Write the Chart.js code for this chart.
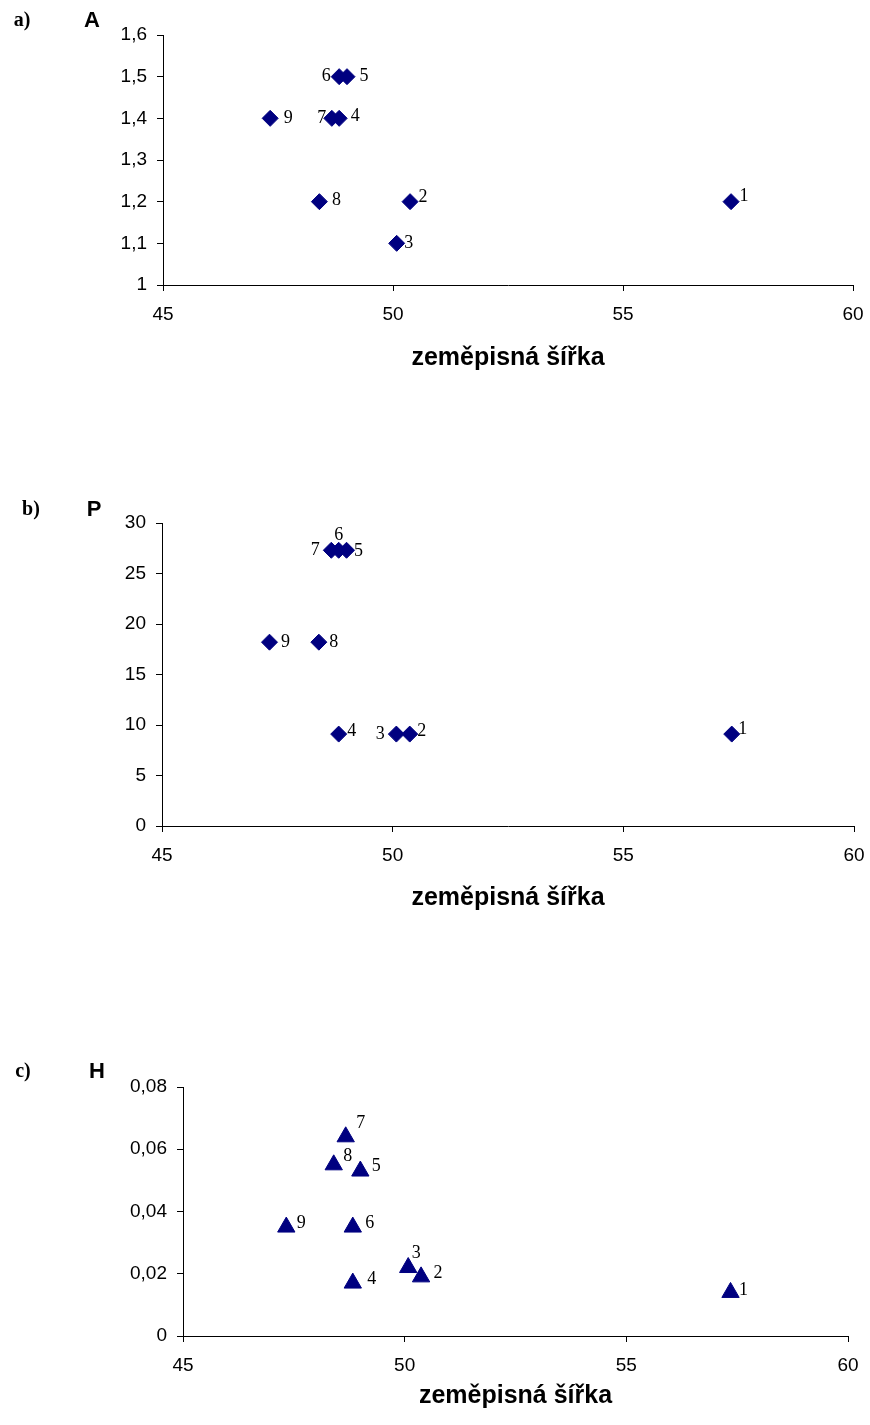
<!DOCTYPE html>
<html>
<head>
<meta charset="utf-8">
<script src="https://cdn.jsdelivr.net/npm/chart.js@4.4.1/dist/chart.umd.min.js"></script>
<style>
    body { margin: 0; background: #fff; }
    #page { position: relative; width: 870px; height: 1425px; }
    canvas { position: absolute; left: 0; }
</style>
</head>
<body>
<div id="page">
    <canvas id="chartA" width="870" height="380" style="top:0px"></canvas>
    <canvas id="chartP" width="870" height="440" style="top:480px"></canvas>
    <canvas id="chartH" width="870" height="385" style="top:1040px"></canvas>
</div>
<script>
// station numbers and their latitude
const stations = ['1', '2', '3', '4', '5', '6', '7', '8', '9'];
const latitude = [57.35, 50.37, 50.08, 48.83, 49.0, 48.83, 48.67, 48.4, 47.33];

// measured values per station
const valuesA = [1.2, 1.2, 1.1, 1.4, 1.5, 1.5, 1.4, 1.2, 1.4];
const valuesP = [9.1, 9.1, 9.1, 9.1, 27.3, 27.3, 27.3, 18.2, 18.2];
const valuesH = [0.014, 0.019, 0.022, 0.017, 0.053, 0.035, 0.064, 0.055, 0.035];

// axis ticks
const latTicks = [45, 50, 55, 60];
const ticksA = [1, 1.1, 1.2, 1.3, 1.4, 1.5, 1.6];
const ticksP = [0, 5, 10, 15, 20, 25, 30];
const ticksH = [0, 0.02, 0.04, 0.06, 0.08];

const sansFont = 'Arial, "Liberation Sans", sans-serif';
const serifFont = '"Times New Roman", "Liberation Serif", serif';
const markerColor = '#000080';

function fmt(v) {
    return Number(v.toFixed(3)).toString().replace('.', ',');
}

// station numbers next to each marker
const stationLabels = {
    id: 'stationLabels',
    afterDatasetsDraw(chart, args, opts) {
        const c = chart.ctx;
        const meta = chart.getDatasetMeta(0);
        c.save();
        c.font = '18px ' + serifFont;
        c.fillStyle = '#000';
        c.textAlign = 'center';
        c.textBaseline = 'middle';
        meta.data.forEach(function (pt, i) {
            const shift = opts.shift[i];
            c.fillText(stations[i], pt.x + shift[0], pt.y + shift[1]);
        });
        c.restore();
    }
};

// panel letter and quantity name in the top-left corner
const cornerText = {
    id: 'cornerText',
    afterDraw(chart, args, opts) {
        const c = chart.ctx;
        c.save();
        c.fillStyle = '#000';
        c.textAlign = 'center';
        c.textBaseline = 'middle';
        c.font = 'bold 20px ' + serifFont;
        c.fillText(opts.panel, opts.panelX, opts.y);
        c.font = 'bold 22px ' + sansFont;
        c.fillText(opts.name, opts.nameX, opts.y);
        c.restore();
    }
};

function makeChart(id, values, yTicks, s) {
    let points = [];
    latitude.forEach(function (lat, i) {
        points.push({ x: lat, y: values[i] });
    });

    return new Chart(document.getElementById(id), {
        type: 'scatter',
        data: {
            datasets: [{
                data: points,
                pointStyle: s.marker,
                pointRadius: s.radius,
                pointBackgroundColor: markerColor,
                pointBorderColor: markerColor,
                pointBorderWidth: 1
            }]
        },
        options: {
            responsive: false,
            animation: false,
            layout: { padding: s.padding },
            plugins: {
                legend: { display: false },
                tooltip: { enabled: false },
                stationLabels: { shift: s.shift },
                cornerText: s.corner
            },
            scales: {
                x: {
                    type: 'linear',
                    min: 45,
                    max: 60,
                    afterBuildTicks: function (scale) {
                        scale.ticks = latTicks.map(v => ({ value: v }));
                    },
                    afterFit: function (scale) {
                        // plot edges come from layout.padding only
                        scale.height = s.xHeight;
                        scale.paddingLeft = 0;
                        scale.paddingRight = 0;
                    },
                    ticks: {
                        color: '#000',
                        font: { family: sansFont, size: 19 },
                        padding: 12,
                        maxRotation: 0
                    },
                    grid: { drawOnChartArea: false, tickLength: 6, color: '#000' },
                    border: { color: '#000', width: 1 },
                    title: {
                        display: true,
                        text: 'zeměpisná šířka',
                        color: '#000',
                        padding: 0,
                        font: { family: sansFont, size: 25, weight: 'bold' }
                    }
                },
                y: {
                    type: 'linear',
                    min: yTicks[0],
                    max: yTicks[yTicks.length - 1],
                    afterBuildTicks: function (scale) {
                        scale.ticks = yTicks.map(v => ({ value: v }));
                    },
                    afterFit: function (scale) {
                        scale.width = s.yWidth;
                        scale.paddingTop = 0;
                        scale.paddingBottom = 0;
                    },
                    ticks: {
                        color: '#000',
                        font: { family: sansFont, size: 19 },
                        padding: 10,
                        callback: function (value) {
                            return fmt(value);
                        }
                    },
                    grid: { drawOnChartArea: false, tickLength: 6, color: '#000' },
                    border: { color: '#000', width: 1 }
                }
            }
        },
        plugins: [stationLabels, cornerText]
    });
}

makeChart('chartA', valuesA, ticksA, {
    marker: 'rectRot',
    radius: 8,
    padding: { top: 35, right: 17, bottom: 7, left: 0 },
    xHeight: 88,
    yWidth: 163,
    shift: [[13, -5], [13, -4], [12, 0], [16, -2], [17, 0], [-13, 0], [-10, 0], [17, -1], [18, 0]],
    corner: { panel: 'a)', panelX: 22, name: 'A', nameX: 92, y: 21 }
});

makeChart('chartP', valuesP, ticksP, {
    marker: 'rectRot',
    radius: 8,
    padding: { top: 43, right: 16, bottom: 7, left: 0 },
    xHeight: 87,
    yWidth: 162,
    shift: [[11, -5], [12, -3], [-16, 0], [13, -3], [12, 1], [0, -15], [-16, 0], [15, 0], [16, 0]],
    corner: { panel: 'b)', panelX: 31, name: 'P', nameX: 94, y: 30 }
});

makeChart('chartH', valuesH, ticksH, {
    marker: 'triangle',
    radius: 10,
    padding: { top: 47, right: 22, bottom: 14, left: 0 },
    xHeight: 75,
    yWidth: 183,
    shift: [[13, -2], [17, -4], [8, -14], [19, -4], [16, -5], [17, -4], [15, -14], [14, -9], [15, -4]],
    corner: { panel: 'c)', panelX: 23, name: 'H', nameX: 97, y: 32 }
});
</script>
</body>
</html>
